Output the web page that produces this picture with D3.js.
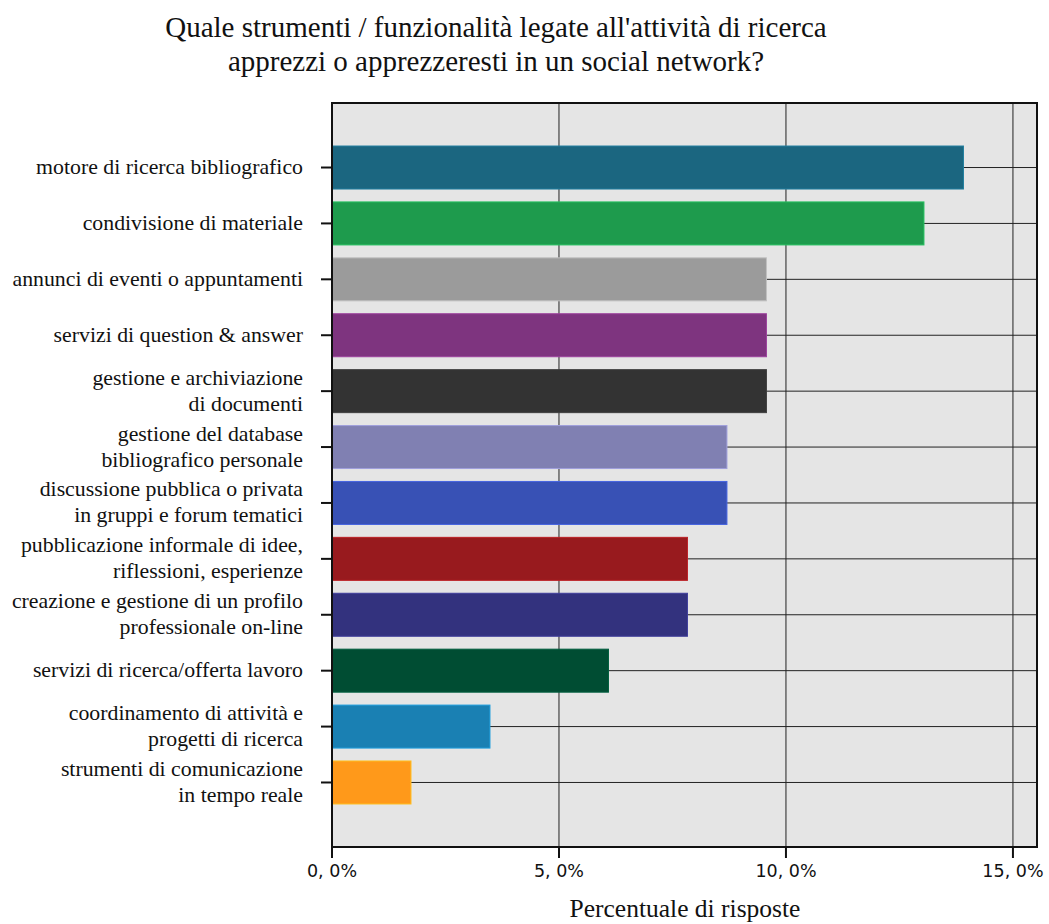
<!DOCTYPE html>
<html>
<head>
<meta charset="utf-8">
<script src="https://cdn.jsdelivr.net/npm/d3@7"></script>
<style>
  body { margin: 0; background: #fff; }
  svg { display: block; }
</style>
</head>
<body>
<div id="chart"></div>
<script>
// categories, top to bottom (multi-line labels split on "|")
const categories = [
  'motore di ricerca bibliografico',
  'condivisione di materiale',
  'annunci di eventi o appuntamenti',
  'servizi di question & answer',
  'gestione e archiviazione|di documenti',
  'gestione del database|bibliografico personale',
  'discussione pubblica o privata|in gruppi e forum tematici',
  'pubblicazione informale di idee,|riflessioni, esperienze',
  'creazione e gestione di un profilo|professionale on-line',
  'servizi di ricerca/offerta lavoro',
  'coordinamento di attività e|progetti di ricerca',
  'strumenti di comunicazione|in tempo reale'
];
const values = [13.91, 13.04, 9.57, 9.57, 9.57, 8.70, 8.70, 7.83, 7.83, 6.09, 3.48, 1.74];
const colors = ['#1b6680', '#1e9b4d', '#9b9b9b', '#7e347f', '#333333', '#8080b2',
                '#3851b5', '#981a1e', '#33327e', '#004d33', '#1a80b3', '#ff991a'];
const xTicks = [0, 5, 10, 15];
const titleLines = ["Quale strumenti / funzionalità legate all'attività di ricerca",
                    'apprezzi o apprezzeresti in un social network?'];
const xTitle = 'Percentuale di risposte';

const W = 1049, H = 924;
const plot = { left: 332, right: 1037, top: 103, bottom: 847 };

const svg = d3.select('#chart').append('svg').attr('width', W).attr('height', H);

const x = d3.scaleLinear().domain([0, 15.53]).range([plot.left, plot.right]);
const y = d3.scalePoint().domain(categories).range([plot.top, plot.bottom]).padding(1.154);
const barH = 43;

// background
svg.append('rect')
  .attr('x', plot.left).attr('y', plot.top)
  .attr('width', plot.right - plot.left).attr('height', plot.bottom - plot.top)
  .attr('fill', '#e5e5e5');

// grid
svg.append('g').selectAll('line.vg').data(xTicks.slice(1)).enter().append('line')
  .attr('x1', d => x(d)).attr('x2', d => x(d))
  .attr('y1', plot.top).attr('y2', plot.bottom)
  .attr('stroke', '#222').attr('stroke-width', 1);
svg.append('g').selectAll('line.hg').data(categories).enter().append('line')
  .attr('x1', plot.left).attr('x2', plot.right)
  .attr('y1', d => y(d)).attr('y2', d => y(d))
  .attr('stroke', '#222').attr('stroke-width', 1);

// bars
svg.append('g').selectAll('rect').data(categories).enter().append('rect')
  .attr('x', x(0))
  .attr('y', d => y(d) - barH / 2)
  .attr('width', (d, i) => x(values[i]) - x(0))
  .attr('height', barH)
  .attr('fill', (d, i) => colors[i])
  .attr('stroke', (d, i) => d3.color(colors[i]).brighter(0.6))
  .attr('stroke-width', 1);

// frame
svg.append('rect')
  .attr('x', plot.left).attr('y', plot.top)
  .attr('width', plot.right - plot.left).attr('height', plot.bottom - plot.top)
  .attr('fill', 'none').attr('stroke', '#111').attr('stroke-width', 2);

// x axis
const xAxis = svg.append('g');
xAxis.selectAll('line').data(xTicks).enter().append('line')
  .attr('x1', d => x(d)).attr('x2', d => x(d))
  .attr('y1', plot.bottom).attr('y2', plot.bottom + 11)
  .attr('stroke', '#111').attr('stroke-width', 2);
xAxis.selectAll('text').data(xTicks).enter().append('text')
  .attr('x', d => x(d)).attr('y', plot.bottom + 30)
  .attr('text-anchor', 'middle')
  .attr('font-family', 'DejaVu Sans').attr('font-size', 17.5).attr('fill', '#111')
  .text(d => d + ', 0%');

svg.append('text')
  .attr('x', 685).attr('y', 917)
  .attr('text-anchor', 'middle')
  .attr('font-family', 'Liberation Serif').attr('font-size', 25.5).attr('fill', '#111')
  .text(xTitle);

// y axis
const yAxis = svg.append('g');
yAxis.selectAll('line').data(categories).enter().append('line')
  .attr('x1', plot.left - 11).attr('x2', plot.left)
  .attr('y1', d => y(d)).attr('y2', d => y(d))
  .attr('stroke', '#111').attr('stroke-width', 2);
yAxis.selectAll('text').data(categories).enter().append('text')
  .attr('text-anchor', 'end')
  .attr('font-family', 'Liberation Serif').attr('font-size', 21.8).attr('fill', '#111')
  .each(function (d) {
    const lines = d.split('|');
    const t = d3.select(this);
    lines.forEach((ln, k) => {
      t.append('tspan')
        .attr('x', 303)
        .attr('y', y(d) + 6.5 + (k - (lines.length - 1) / 2) * 26)
        .text(ln);
    });
  });

// title
svg.append('g').selectAll('text').data(titleLines).enter().append('text')
  .attr('x', 496).attr('y', (d, i) => 37 + i * 34)
  .attr('text-anchor', 'middle')
  .attr('font-family', 'Liberation Serif').attr('font-size', 29).attr('fill', '#111')
  .text(d => d);
</script>
</body>
</html>
